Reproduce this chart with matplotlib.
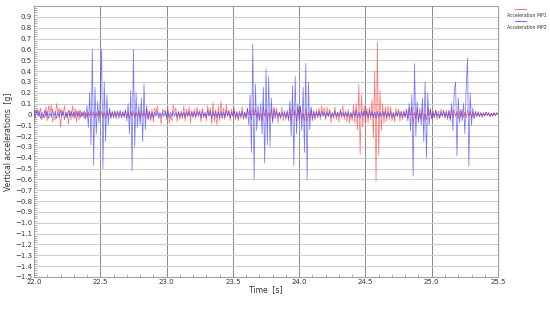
import numpy as np
import matplotlib.pyplot as plt
from matplotlib.lines import Line2D
from matplotlib.ticker import MultipleLocator, FuncFormatter


T_START = 22.0  # first sample [s]
FS = 100  # sample rate [Hz]

# Acceleration MP1, hundredths of g, one row = 0.1 s
mp1_cg = [
	-8, 3, 1, 5, -2, 6, -5, -1, -3, 7,
	-6, 8, 2, 9, -7, -2, -5, 10, 1, 6,
	-12, 5, -1, 8, -3, 2, -9, 4, -5, 8,
	-4, 6, -7, 3, -5, 4, -2, 3, -4, 2,
	-3, 2, -2, 3, -1, 2, -3, 2, -2, 3,
	-2, 3, -3, 2, -4, 3, -2, 4, -3, 2,
	-3, 4, -2, 3, -4, 2, -3, 3, -2, 4,
	-3, 2, -4, 3, -2, 3, -3, 2, -2, 3,
	-4, 3, -2, 4, -3, 5, -4, 3, -6, 5,
	-7, 6, 1, 8, -4, -1, -9, 5, 2, 4,
	-5, 7, -8, -1, -6, 9, 2, 6, -7, 3,
	-5, 1, -4, 8, -6, 5, -1, 7, -8, 4,
	-2, 5, -4, 7, 0, 4, -7, 6, -3, 1,
	-6, 8, -1, 6, -9, 11, -7, 2, -10, 8,
	-6, 12, -3, 6, -5, 9, -1, 4, -6, 5,
	-1, 6, -5, 3, -6, 1, -4, 7, -5, 2,
	-3, 5, 0, 4, -5, 6, -1, 5, -3, 2,
	-5, 1, -6, 7, -2, 5, -7, 2, -4, 5,
	-6, 7, -1, 6, -8, 2, -4, 7, -6, 1,
	-5, 2, -4, 5, -7, 8, -1, 4, -6, 7,
	-1, 6, -5, 1, -6, 5, -7, 2, -4, 5,
	-6, 3, -5, 4, -2, 6, -5, 8, -1, 6,
	-5, 7, -2, 5, -8, 1, -4, 7, -5, 2,
	-7, 5, -1, 8, -5, 2, -7, 5, -8, 1,
	-6, 9, -8, 10, -14, 28, -37, 18, -12, 8,
	-7, 6, -8, 7, -5, 14, -22, 40, -62, 67,
	-38, 22, -15, 10, -8, 7, -6, 8, -5, 7,
	-6, 1, -7, 6, -1, 5, -6, 2, -5, 4,
	-2, 5, -4, 6, -1, 7, -9, 2, -4, 5,
	-5, 1, -4, 5, -6, 0, -5, 6, -1, 5,
	-4, 1, -3, 4, -5, 0, -4, 5, -1, 4,
	-3, 4, -5, 3, -4, 5, -3, 4, -2, 3,
	-4, 3, -2, 4, -3, 2, -3, 4, -2, 3,
	-3, 2, -3, 2, -2, 3, -2, 2, -3, 2,
	-2, 2, -1, 2, -2, 1, -2, 2, -1, 2,
	0,
]

# Acceleration MP2, hundredths of g
mp2_cg = [
	5, -3, 4, -2, 3, -4, 2, -3, 4, -2,
	3, -4, 2, -3, 5, -2, 3, -4, 2, -3,
	4, -2, 3, -5, 2, -3, 4, -2, 3, -2,
	2, -3, 3, -2, 4, -3, 2, -2, 3, -4,
	8, -12, 20, -28, 60, -47, 25, -18, 12, -8,
	15, 60, -50, 30, -25, 18, -10, 6, -4, 3,
	-3, 2, -4, 3, -2, 4, -3, 2, -3, 4,
	-6, 10, -18, 22, -52, 60, -30, 20, -12, 8,
	-10, 15, -25, 28, -14, 8, -5, 3, -4, 2,
	-3, 2, -2, 3, -2, 2, -3, 2, -2, 3,
	-2, 3, -3, 2, -2, 3, -2, 2, -3, 2,
	-2, 3, -2, 2, -3, 2, -2, 3, -2, 2,
	-3, 2, -2, 3, -2, 2, -3, 3, -2, 2,
	-3, 4, -2, 3, -4, 3, -2, 4, -3, 2,
	-3, 3, -4, 2, -3, 4, -2, 3, -3, 2,
	-2, 3, -3, 2, -4, 3, -2, 3, -3, 2,
	-4, 6, -10, 18, -35, 65, -60, 28, -15, 8,
	-6, 10, -18, 25, -45, 42, -28, 35, -30, 15,
	-8, 5, -4, 3, -3, 2, -3, 2, -2, 3,
	-3, 4, -6, 12, -20, 26, -47, 35, -18, 10,
	-6, 8, -15, 25, -35, 47, -60, 30, -14, 7,
	-4, 3, -3, 2, -3, 3, -2, 3, -2, 2,
	-3, 2, -2, 3, -3, 2, -2, 3, -2, 2,
	-2, 3, -3, 2, -2, 3, -2, 2, -3, 2,
	-3, 3, -2, 4, -3, 2, -4, 3, -2, 3,
	-2, 3, -3, 4, -2, 3, -3, 2, -4, 3,
	-3, 2, -2, 3, -2, 3, -3, 2, -2, 3,
	-3, 2, -3, 2, -2, 3, -2, 3, -3, 2,
	-3, 4, -6, 10, -15, 18, -57, 47, -20, 12,
	-8, 6, -10, 15, -25, 30, -40, 20, -10, 5,
	-4, 3, -3, 4, -2, 3, -3, 2, -2, 3,
	-3, 2, -3, 4, -6, 10, -15, 22, 30, -38,
	15, -8, 5, -6, 10, -18, 25, 52, -48, 20,
	-10, 6, -4, 3, -2, 2, -2, 1, -2, 1,
	-1, 2, -1, 1, -2, 1, -1, 1, -1, 1,
	0,
]

series_names = ['Acceleration MP1', 'Acceleration MP2']
series_colors = ['#ff2020', '#2020ff']

t = T_START + np.arange(len(mp1_cg)) / FS
mp1 = np.array(mp1_cg) / 100.0
mp2 = np.array(mp2_cg) / 100.0


fig = plt.figure(figsize=(5.5, 3.09), dpi=100)
ax = fig.add_axes([0.0618, 0.1036, 0.8437, 0.877])

ax.plot(t, mp1, color=series_colors[0], lw=0.55, alpha=0.6, zorder=3)
ax.plot(t, mp2, color=series_colors[1], lw=0.55, alpha=0.6, zorder=4)

ax.set_xlim(22.0, 25.5)
ax.set_ylim(-1.5, 1.0)

ax.xaxis.set_major_locator(MultipleLocator(0.5))
ax.xaxis.set_minor_locator(MultipleLocator(0.1))
ax.yaxis.set_major_locator(MultipleLocator(0.1))
ax.yaxis.set_minor_locator(MultipleLocator(0.02))

def ylab(v, pos):
	if abs(v) < 1e-9:
		return '0'
	if v > 0.95:
		return ''
	return ('%.1f' % v).replace('-', '\u2212')

ax.yaxis.set_major_formatter(FuncFormatter(ylab))
ax.xaxis.set_major_formatter(FuncFormatter(lambda v, p: '%.1f' % v))

ax.grid(axis='y', which='major', color='#cdcdcd', lw=0.7)
ax.grid(axis='x', which='major', color='#8a8a8a', lw=0.7)
ax.set_axisbelow(True)

ax.tick_params(which='both', direction='in', colors='#909090', labelcolor='#333333',
	labelsize=5, pad=1.5)
ax.tick_params(which='major', length=0)
ax.tick_params(which='minor', length=2, width=0.5)
for s in ax.spines.values():
	s.set_color('#a0a0a0')
	s.set_linewidth(0.8)

ax.set_xlabel('Time  [s]', fontsize=5.5, color='#333333', labelpad=0)
ax.set_ylabel('Vertical accelerations  [g]', fontsize=5.5, color='#333333', labelpad=1)

# Legend outside the axes, top right
leg_y = [0.972, 0.932]
for name, col, ly in zip(series_names, series_colors, leg_y):
	fig.add_artist(Line2D([0.937, 0.956], [ly, ly], color=col, lw=0.6, alpha=0.8,
		transform=fig.transFigure))
	fig.text(0.921, ly - 0.021, name, fontsize=3.3, color='#333333', va='center')

fig.savefig('out.png', dpi=100)
